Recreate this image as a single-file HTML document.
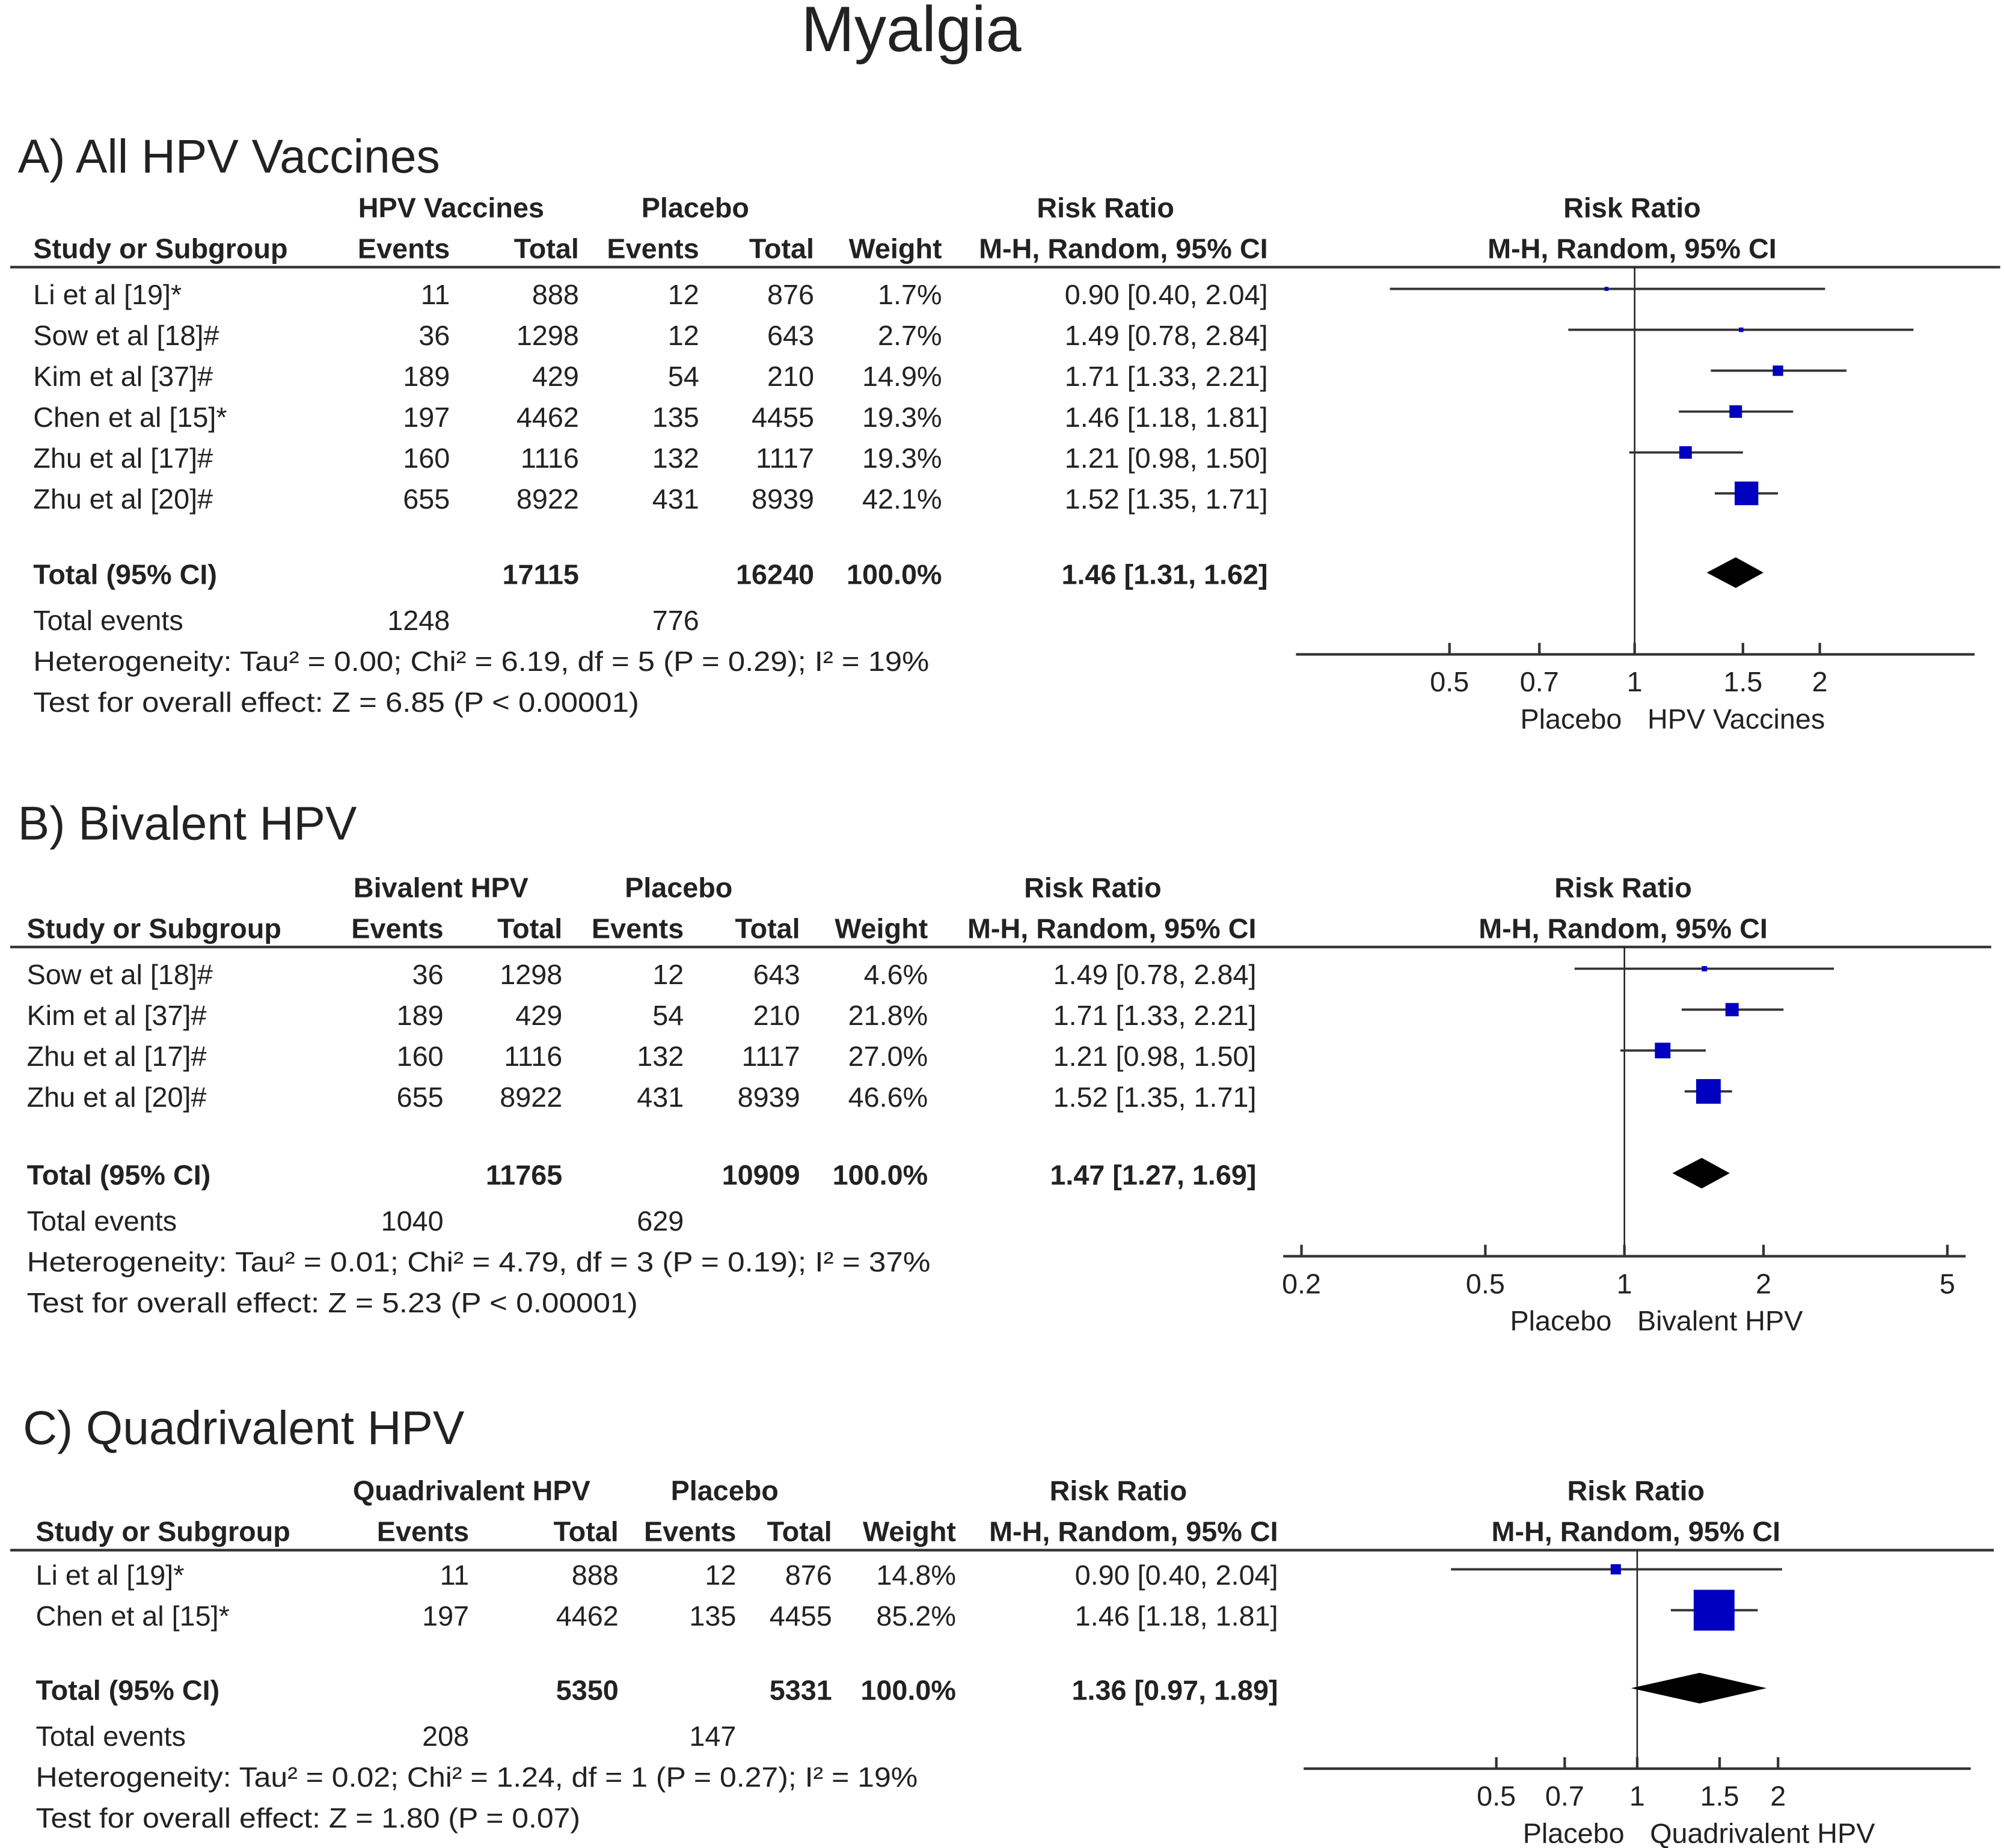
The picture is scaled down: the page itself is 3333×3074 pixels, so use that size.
<!DOCTYPE html>
<html><head><meta charset="utf-8"><style>
html,body{margin:0;padding:0;background:#fff}
svg{display:block}
text{font-family:"Liberation Sans",Arial,sans-serif;fill:#222}
.h{font-weight:bold;font-size:22px}
.t{font-size:22px}
</style></head><body>
<svg id="chart" width="3333" height="3074" viewBox="0 0 1568 1446" xmlns="http://www.w3.org/2000/svg">
<rect width="1568" height="1446" fill="#fff"/>
<text x="713" y="40" text-anchor="middle" font-size="50">Myalgia</text>
</svg>
<script>
// Panel A data
const studiesA = ["Li et al [19]*","Sow et al [18]#","Kim et al [37]#","Chen et al [15]*","Zhu et al [17]#","Zhu et al [20]#"];
const vacEventsA = [11,36,189,197,160,655];
const vacTotalA = [888,1298,429,4462,1116,8922];
const plaEventsA = [12,12,54,135,132,431];
const plaTotalA = [876,643,210,4455,1117,8939];
const weightA = [1.7,2.7,14.9,19.3,19.3,42.1];
const rrA = [0.90,1.49,1.71,1.46,1.21,1.52];
const loA = [0.40,0.78,1.33,1.18,0.98,1.35];
const hiA = [2.04,2.84,2.21,1.81,1.50,1.71];
const totalA = {vt:17115, pt:16240, ve:1248, pe:776, rr:1.46, lo:1.31, hi:1.62};
const ticksA = [0.5,0.7,1,1.5,2];
// Panel B data
const studiesB = ["Sow et al [18]#","Kim et al [37]#","Zhu et al [17]#","Zhu et al [20]#"];
const vacEventsB = [36,189,160,655];
const vacTotalB = [1298,429,1116,8922];
const plaEventsB = [12,54,132,431];
const plaTotalB = [643,210,1117,8939];
const weightB = [4.6,21.8,27.0,46.6];
const rrB = [1.49,1.71,1.21,1.52];
const loB = [0.78,1.33,0.98,1.35];
const hiB = [2.84,2.21,1.50,1.71];
const totalB = {vt:11765, pt:10909, ve:1040, pe:629, rr:1.47, lo:1.27, hi:1.69};
const ticksB = [0.2,0.5,1,2,5];
// Panel C data
const studiesC = ["Li et al [19]*","Chen et al [15]*"];
const vacEventsC = [11,197];
const vacTotalC = [888,4462];
const plaEventsC = [12,135];
const plaTotalC = [876,4455];
const weightC = [14.8,85.2];
const rrC = [0.90,1.46];
const loC = [0.40,1.18];
const hiC = [2.04,1.81];
const totalC = {vt:5350, pt:5331, ve:208, pe:147, rr:1.36, lo:0.97, hi:1.89};
const ticksC = [0.5,0.7,1,1.5,2];

const NS="http://www.w3.org/2000/svg";
const svg=document.getElementById('chart');
function mk(tag,attrs,parent,txt){const e=document.createElementNS(NS,tag);for(const k in attrs)e.setAttribute(k,attrs[k]);if(txt!==undefined)e.textContent=txt;(parent||svg).appendChild(e);return e;}
function txt(g,x,y,s,cls,anchor,name,extra){const e=mk('text',Object.assign({x:x,y:y,class:cls,'text-anchor':anchor||'start'},extra||{}),g,s);


return e;}
function f2(v){return v.toFixed(2);}

function panel(cfg){
  const g=mk('g',{});
  
  
  const c=cfg.cols;
  txt(g,cfg.titleX,cfg.titleY,cfg.title,'', 'start','panel-title',{'font-size':'37'});
  const y1=cfg.hdrY, y2=y1+32;
  txt(g,c.grpC,y1,cfg.group,'h','middle','group-header');
  txt(g,c.plaC,y1,'Placebo','h','middle','placebo-header');
  txt(g,c.rrC,y1,'Risk Ratio','h','middle','risk-ratio-header');
  txt(g,cfg.plotC,y1,'Risk Ratio','h','middle','plot-risk-ratio-header');
  txt(g,c.study,y2,'Study or Subgroup','h','start','study-header');
  txt(g,c.ve,y2,'Events','h','end','vaccine-events-header');
  txt(g,c.vt,y2,'Total','h','end','vaccine-total-header');
  txt(g,c.pe,y2,'Events','h','end','placebo-events-header');
  txt(g,c.pt,y2,'Total','h','end','placebo-total-header');
  txt(g,c.w,y2,'Weight','h','end','weight-header');
  txt(g,c.ci,y2,'M-H, Random, 95% CI','h','end','ci-header');
  txt(g,cfg.plotC,y2,'M-H, Random, 95% CI','h','middle','plot-ci-header');
  const lineY=y2+7;
  const hl=mk('line',{x1:8,x2:cfg.lineR,y1:lineY,y2:lineY,stroke:'#333','stroke-width':2},g);
  
  
  const X=v=>cfg.x1+Math.log(v)*cfg.k;
  const vl=mk('line',{x1:X(1),x2:X(1),y1:lineY,y2:cfg.axisY,stroke:'#222','stroke-width':1.2},g);
  
  
  const ax=mk('line',{x1:cfg.axL,x2:cfg.axR,y1:cfg.axisY,y2:cfg.axisY,stroke:'#333','stroke-width':2},g);
  
  
  cfg.ticks.forEach(t=>{
    const tk=mk('line',{x1:X(t),x2:X(t),y1:cfg.axisY-9,y2:cfg.axisY,stroke:'#333','stroke-width':2},g);
    
    
    txt(g,X(t),cfg.axisY+29,String(t),'t','middle','x-tick-label');
  });
  txt(g,X(1)-10,cfg.axisY+58,'Placebo','t','end','favours-placebo-label',{fill:'#555'});
  txt(g,X(1)+10,cfg.axisY+58,cfg.group,'t','start','favours-vaccine-label',{fill:'#555'});
  const d=cfg.data;
  d.studies.forEach((s,i)=>{
    const y=cfg.row0+i*32;
    txt(g,c.study,y,s,'t','start','study-name');
    txt(g,c.ve,y,String(d.ve[i]),'t','end','vaccine-events');
    txt(g,c.vt,y,String(d.vt[i]),'t','end','vaccine-total');
    txt(g,c.pe,y,String(d.pe[i]),'t','end','placebo-events');
    txt(g,c.pt,y,String(d.pt[i]),'t','end','placebo-total');
    txt(g,c.w,y,d.w[i].toFixed(1)+'%','t','end','weight');
    txt(g,c.ci,y,f2(d.rr[i])+' ['+f2(d.lo[i])+', '+f2(d.hi[i])+']','t','end','risk-ratio-ci');
    const cy=y-12;
    const l=mk('line',{x1:X(d.lo[i]),x2:X(d.hi[i]),y1:cy,y2:cy,stroke:'#333','stroke-width':1.8},g);
    
    
    const sz=cfg.sq0+d.w[i]*cfg.sqk;
    const r=mk('rect',{x:X(d.rr[i])-sz/2,y:cy-sz/2,width:sz,height:sz,fill:'#0000c0'},g);
    
    
  });
  const T=d.total, ty=cfg.totY;
  txt(g,c.study,ty,'Total (95% CI)','h','start','total-label');
  txt(g,c.vt,ty,String(T.vt),'h','end','vaccine-total-sum');
  txt(g,c.pt,ty,String(T.pt),'h','end','placebo-total-sum');
  txt(g,c.w,ty,'100.0%','h','end','total-weight');
  txt(g,c.ci,ty,f2(T.rr)+' ['+f2(T.lo)+', '+f2(T.hi)+']','h','end','total-ci');
  const dy=ty-9;
  const dm=mk('polygon',{points:`${X(T.lo)},${dy} ${X(T.rr)},${dy-12} ${X(T.hi)},${dy} ${X(T.rr)},${dy+12}`,fill:'#000'},g);
  
  
  txt(g,c.study,ty+36,'Total events','t','start','total-events-label');
  txt(g,c.ve,ty+36,String(T.ve),'t','end','vaccine-total-events');
  txt(g,c.pe,ty+36,String(T.pe),'t','end','placebo-total-events');
  txt(g,c.study,ty+68,cfg.het,'t','start','heterogeneity-text',{textLength:cfg.hetLen,lengthAdjust:'spacingAndGlyphs'});
  txt(g,c.study,ty+100,cfg.test,'t','start','overall-effect-text',{textLength:cfg.testLen,lengthAdjust:'spacingAndGlyphs'});
}

panel({id:'a',title:'A) All HPV Vaccines',titleX:14,titleY:135,group:'HPV Vaccines',hdrY:170,
 cols:{grpC:353,plaC:544,rrC:865,study:26,ve:352,vt:453,pe:547,pt:637,w:737,ci:992},
 plotC:1277,lineR:1565,x1:1279,k:209,axisY:512,axL:1014,axR:1545,ticks:ticksA,row0:238,totY:457,sq0:2.5,sqk:0.38,
 data:{studies:studiesA,ve:vacEventsA,vt:vacTotalA,pe:plaEventsA,pt:plaTotalA,w:weightA,rr:rrA,lo:loA,hi:hiA,total:totalA},
 het:'Heterogeneity: Tau² = 0.00; Chi² = 6.19, df = 5 (P = 0.29); I² = 19%',hetLen:701,
 test:'Test for overall effect: Z = 6.85 (P < 0.00001)',testLen:474});
panel({id:'b',title:'B) Bivalent HPV',titleX:14,titleY:657,group:'Bivalent HPV',hdrY:702,
 cols:{grpC:345,plaC:531,rrC:855,study:21,ve:347,vt:440,pe:535,pt:626,w:726,ci:983},
 plotC:1270,lineR:1558,x1:1271,k:157,axisY:983,axL:1004,axR:1538,ticks:ticksB,row0:770,totY:927,sq0:2.5,sqk:0.36,
 data:{studies:studiesB,ve:vacEventsB,vt:vacTotalB,pe:plaEventsB,pt:plaTotalB,w:weightB,rr:rrB,lo:loB,hi:hiB,total:totalB},
 het:'Heterogeneity: Tau² = 0.01; Chi² = 4.79, df = 3 (P = 0.19); I² = 37%',hetLen:707,
 test:'Test for overall effect: Z = 5.23 (P < 0.00001)',testLen:478});
panel({id:'c',title:'C) Quadrivalent HPV',titleX:18,titleY:1130,group:'Quadrivalent HPV',hdrY:1174,
 cols:{grpC:369,plaC:567,rrC:875,study:28,ve:367,vt:484,pe:576,pt:651,w:748,ci:1000},
 plotC:1280,lineR:1560,x1:1281,k:159,axisY:1384,axL:1020,axR:1542,ticks:ticksC,row0:1240,totY:1330,sq0:3,sqk:0.34,
 data:{studies:studiesC,ve:vacEventsC,vt:vacTotalC,pe:plaEventsC,pt:plaTotalC,w:weightC,rr:rrC,lo:loC,hi:hiC,total:totalC},
 het:'Heterogeneity: Tau² = 0.02; Chi² = 1.24, df = 1 (P = 0.27); I² = 19%',hetLen:690,
 test:'Test for overall effect: Z = 1.80 (P = 0.07)',testLen:426});
</script>
</body></html>
